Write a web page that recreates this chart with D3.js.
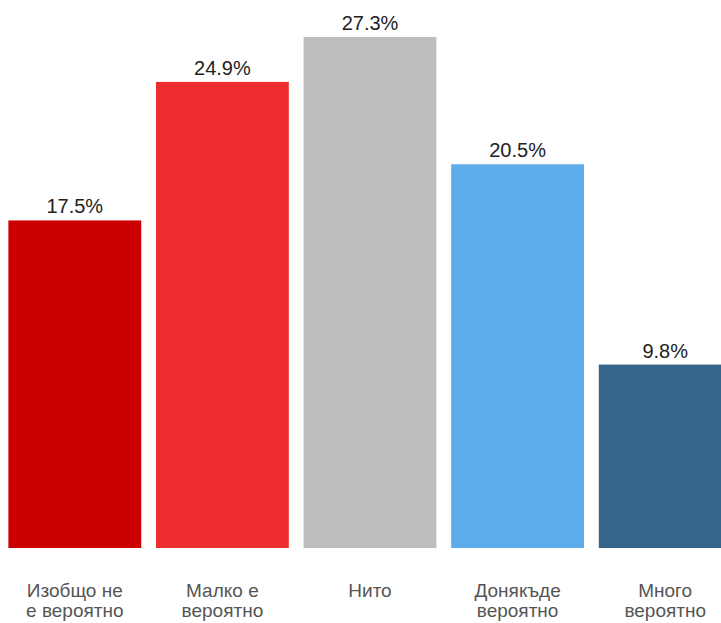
<!DOCTYPE html>
<html lang="bg">
	<head>
		<meta charset="utf-8">
		<title>Bar chart</title>
		<script type="text/javascript" src="https://cdn.jsdelivr.net/npm/d3@7/dist/d3.min.js"></script>
		<style type="text/css">
			html, body { margin: 0; padding: 0; overflow: hidden; background: #fff; }
		</style>
	</head>
	<body>
		<script type="text/javascript">

			// data
			var categories = ["Изобщо не|е вероятно", "Малко е|вероятно", "Нито", "Донякъде|вероятно", "Много|вероятно"];
			var values = [17.5, 24.9, 27.3, 20.5, 9.8];
			var colors = ["#cc0000", "#ee2e2e", "#bebebe", "#5cabeb", "#376489"];

			var w = 740;
			var h = 623;
			var base = 548;

			var svg = d3.select("body")
						.append("svg")
						.attr("width", w)
						.attr("height", h);

			var x = d3.scaleBand()
						.domain(d3.range(categories.length))
						.range([1, 739])
						.paddingInner(0.1)
						.paddingOuter(0.05);

			var y = d3.scaleLinear()
						.domain([0, 27.3])
						.range([base, 37]);

			svg.selectAll("rect")
			   .data(values)
			   .enter()
			   .append("rect")
			   .attr("x", function(d, i) { return x(i); })
			   .attr("y", function(d) { return y(d); })
			   .attr("width", x.bandwidth())
			   .attr("height", function(d) { return base - y(d); })
			   .attr("fill", function(d, i) { return colors[i]; });

			// value labels
			svg.selectAll("text.val")
			   .data(values)
			   .enter()
			   .append("text")
			   .attr("class", "val")
			   .text(function(d) { return d.toFixed(1) + "%"; })
			   .attr("text-anchor", "middle")
			   .attr("x", function(d, i) { return x(i) + x.bandwidth() / 2; })
			   .attr("y", function(d) { return y(d) - 7; })
			   .attr("font-family", "Arial, 'Liberation Sans', sans-serif")
			   .attr("font-size", "20px")
			   .attr("fill", "#222");

			// category labels, one text per line
			var lines = [];
			categories.forEach(function(c, i) {
				c.split("|").forEach(function(s, j) { lines.push({ s: s, i: i, j: j }); });
			});

			svg.selectAll("text.cat")
			   .data(lines)
			   .enter()
			   .append("text")
			   .attr("class", "cat")
			   .text(function(d) { return d.s; })
			   .attr("text-anchor", "middle")
			   .attr("x", function(d) { return x(d.i) + x.bandwidth() / 2; })
			   .attr("y", function(d) { return 597 + d.j * 20; })
			   .attr("font-family", "Arial, 'Liberation Sans', sans-serif")
			   .attr("font-size", "19px")
			   .attr("fill", "#555");

		</script>
	</body>
</html>
